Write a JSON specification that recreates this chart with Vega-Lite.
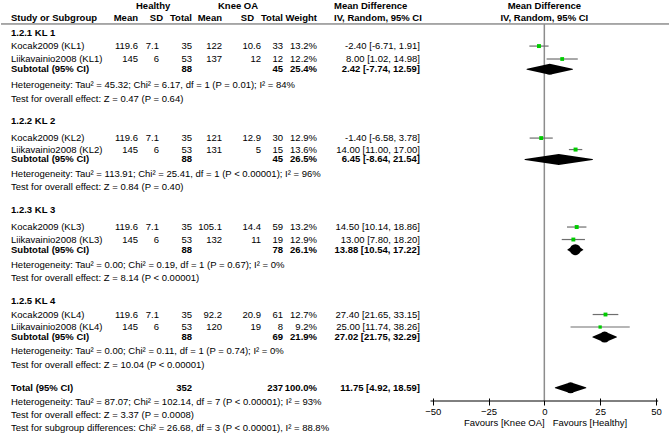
{
"$schema":"https://vega.github.io/schema/vega-lite/v6.json",
"padding":0,
"background":"white",
"spacing":0,
"bounds":"flush",
"config":{"view":{"stroke":null},"concat":{"spacing":0},"text":{"font":"Liberation Sans","fontSize":9.5,"baseline":"middle","color":"#000"}},
"datasets":{
"headers":[
{"col":"study","level":"sub","line":1.24,"text":"Study or Subgroup"},
{"col":"hmean","level":"sub","line":1.24,"text":"Mean"},
{"col":"hsd","level":"top","line":0.41,"text":"Healthy"},
{"col":"hsd","level":"sub","line":1.24,"text":"SD"},
{"col":"htot","level":"sub","line":1.24,"text":"Total"},
{"col":"kmean","level":"sub","line":1.24,"text":"Mean"},
{"col":"ksd","level":"top","line":0.41,"text":"Knee OA"},
{"col":"ksd","level":"sub","line":1.24,"text":"SD"},
{"col":"ktot","level":"sub","line":1.24,"text":"Total"},
{"col":"weight","level":"sub","line":1.24,"text":"Weight"},
{"col":"ci","level":"top","line":0.41,"text":"Mean Difference"},
{"col":"ci","level":"sub","line":1.24,"text":"IV, Random, 95% CI"},
{"col":"plot","level":"top","line":0.41,"text":"Mean Difference","md":0},
{"col":"plot","level":"sub","line":1.24,"text":"IV, Random, 95% CI","md":0}
],
"guides":[
{"guide":"header rule","line":1.65},
{"guide":"no effect","md":0,"line":1.65,"line2":27.59},
{"guide":"axis","lo":-51,"hi":51,"line":27.59}
],
"rows":[
{"line":2.27,"kind":"group","grp":"KL 1","label":"1.2.1 KL 1"},
{"line":3.17,"kind":"study","grp":"KL 1","label":"Kocak2009 (KL1)","hmean":119.6,"hsd":7.1,"htot":35,"kmean":122,"ksd":10.6,"ktot":33,"weight":0.132,"md":-2.40,"lo":-6.71,"hi":1.91,"ci":"-2.40 [-6.71, 1.91]"},
{"line":4.06,"kind":"study","grp":"KL 1","label":"Liikavainio2008 (KL1)","hmean":145,"hsd":6,"htot":53,"kmean":137,"ksd":12,"ktot":12,"weight":0.122,"md":8.00,"lo":1.02,"hi":14.98,"ci":"8.00 [1.02, 14.98]"},
{"line":4.77,"kind":"subtotal","grp":"KL 1","label":"Subtotal (95% CI)","htot":88,"ktot":45,"weight":0.254,"md":2.42,"lo":-7.74,"hi":12.59,"ci":"2.42 [-7.74, 12.59]"},
{"line":5.85,"kind":"note","grp":"KL 1","label":"Heterogeneity: Tau² = 45.32; Chi² = 6.17, df = 1 (P = 0.01); I² = 84%"},
{"line":6.81,"kind":"note","grp":"KL 1","label":"Test for overall effect: Z = 0.47 (P = 0.64)"},
{"line":8.36,"kind":"group","grp":"KL 2","label":"1.2.2 KL 2"},
{"line":9.50,"kind":"study","grp":"KL 2","label":"Kocak2009 (KL2)","hmean":119.6,"hsd":7.1,"htot":35,"kmean":121,"ksd":12.9,"ktot":30,"weight":0.129,"md":-1.40,"lo":-6.58,"hi":3.78,"ci":"-1.40 [-6.58, 3.78]"},
{"line":10.29,"kind":"study","grp":"KL 2","label":"Liikavainio2008 (KL2)","hmean":145,"hsd":6,"htot":53,"kmean":131,"ksd":5,"ktot":15,"weight":0.136,"md":14.00,"lo":11.00,"hi":17.00,"ci":"14.00 [11.00, 17.00]"},
{"line":10.97,"kind":"subtotal","grp":"KL 2","label":"Subtotal (95% CI)","htot":88,"ktot":45,"weight":0.265,"md":6.45,"lo":-8.64,"hi":21.54,"ci":"6.45 [-8.64, 21.54]"},
{"line":11.94,"kind":"note","grp":"KL 2","label":"Heterogeneity: Tau² = 113.91; Chi² = 25.41, df = 1 (P < 0.00001); I² = 96%"},
{"line":12.90,"kind":"note","grp":"KL 2","label":"Test for overall effect: Z = 0.84 (P = 0.40)"},
{"line":14.45,"kind":"group","grp":"KL 3","label":"1.2.3 KL 3"},
{"line":15.62,"kind":"study","grp":"KL 3","label":"Kocak2009 (KL3)","hmean":119.6,"hsd":7.1,"htot":35,"kmean":105.1,"ksd":14.4,"ktot":59,"weight":0.132,"md":14.50,"lo":10.14,"hi":18.86,"ci":"14.50 [10.14, 18.86]"},
{"line":16.48,"kind":"study","grp":"KL 3","label":"Liikavainio2008 (KL3)","hmean":145,"hsd":6,"htot":53,"kmean":132,"ksd":11,"ktot":19,"weight":0.129,"md":13.00,"lo":7.80,"hi":18.20,"ci":"13.00 [7.80, 18.20]"},
{"line":17.18,"kind":"subtotal","grp":"KL 3","label":"Subtotal (95% CI)","htot":88,"ktot":78,"weight":0.261,"md":13.88,"lo":10.54,"hi":17.22,"ci":"13.88 [10.54, 17.22]"},
{"line":18.20,"kind":"note","grp":"KL 3","label":"Heterogeneity: Tau² = 0.00; Chi² = 0.19, df = 1 (P = 0.67); I² = 0%"},
{"line":19.16,"kind":"note","grp":"KL 3","label":"Test for overall effect: Z = 8.14 (P < 0.00001)"},
{"line":20.68,"kind":"group","grp":"KL 4","label":"1.2.5 KL 4"},
{"line":21.64,"kind":"study","grp":"KL 4","label":"Kocak2009 (KL4)","hmean":119.6,"hsd":7.1,"htot":35,"kmean":92.2,"ksd":20.9,"ktot":61,"weight":0.127,"md":27.40,"lo":21.65,"hi":33.15,"ci":"27.40 [21.65, 33.15]"},
{"line":22.50,"kind":"study","grp":"KL 4","label":"Liikavainio2008 (KL4)","hmean":145,"hsd":6,"htot":53,"kmean":120,"ksd":19,"ktot":8,"weight":0.092,"md":25.00,"lo":11.74,"hi":38.26,"ci":"25.00 [11.74, 38.26]"},
{"line":23.19,"kind":"subtotal","grp":"KL 4","label":"Subtotal (95% CI)","htot":88,"ktot":69,"weight":0.219,"md":27.02,"lo":21.75,"hi":32.29,"ci":"27.02 [21.75, 32.29]"},
{"line":24.15,"kind":"note","grp":"KL 4","label":"Heterogeneity: Tau² = 0.00; Chi² = 0.11, df = 1 (P = 0.74); I² = 0%"},
{"line":25.12,"kind":"note","grp":"KL 4","label":"Test for overall effect: Z = 10.04 (P < 0.00001)"},
{"line":26.68,"kind":"total","grp":"Total","label":"Total (95% CI)","htot":352,"ktot":237,"weight":1.0,"md":11.75,"lo":4.92,"hi":18.59,"ci":"11.75 [4.92, 18.59]"},
{"line":27.63,"kind":"note","grp":"Total","label":"Heterogeneity: Tau² = 87.07; Chi² = 102.14, df = 7 (P < 0.00001); I² = 93%"},
{"line":28.56,"kind":"note","grp":"Total","label":"Test for overall effect: Z = 3.37 (P = 0.0008)"},
{"line":29.45,"kind":"note","grp":"Total","label":"Test for subgroup differences: Chi² = 26.68, df = 3 (P < 0.00001), I² = 88.8%"}
]},
"data":{"name":"rows"},
"hconcat":[
{"width":112,"height":436,
 "encoding":{"y":{"field":"line","type":"quantitative","scale":{"domain":[0,30],"reverse":true,"nice":false,"zero":false},"axis":null}},
 "layer":[
  {"data":{"name":"guides"},"transform":[{"filter":"datum.guide == 'header rule'"}],"mark":{"type":"rule","color":"#555","strokeWidth":1}},
  {"data":{"name":"headers"},"transform":[{"filter":"datum.col == 'study'"}],"mark":{"type":"text","align":"left","fontWeight":"bold","dx":10},"encoding":{"x":{"value":0},"text":{"field":"text","type":"nominal"}}},
  {"transform":[{"filter":"datum.kind == 'study' || datum.kind == 'note'"}],"mark":{"type":"text","align":"left","dx":10},"encoding":{"x":{"value":0},"text":{"field":"label","type":"nominal"}}},
  {"transform":[{"filter":"datum.kind == 'group' || datum.kind == 'subtotal' || datum.kind == 'total'"}],"mark":{"type":"text","align":"left","fontWeight":"bold","dx":10},"encoding":{"x":{"value":0},"text":{"field":"label","type":"nominal"}}}
 ]},
{"width":25,"height":436,
 "encoding":{"y":{"field":"line","type":"quantitative","scale":{"domain":[0,30],"reverse":true,"nice":false,"zero":false},"axis":null}},
 "layer":[
  {"data":{"name":"guides"},"transform":[{"filter":"datum.guide == 'header rule'"}],"mark":{"type":"rule","color":"#555","strokeWidth":1}},
  {"data":{"name":"headers"},"transform":[{"filter":"datum.col == 'hmean'"}],"mark":{"type":"text","align":"right","fontWeight":"bold"},"encoding":{"x":{"value":"width"},"text":{"field":"text","type":"nominal"}}},
  {"transform":[{"filter":"datum.kind == 'study'"}],"mark":{"type":"text","align":"right"},"encoding":{"x":{"value":"width"},"text":{"field":"hmean","type":"nominal"}}}
 ]},
{"width":21,"height":436,
 "encoding":{"y":{"field":"line","type":"quantitative","scale":{"domain":[0,30],"reverse":true,"nice":false,"zero":false},"axis":null}},
 "layer":[
  {"data":{"name":"guides"},"transform":[{"filter":"datum.guide == 'header rule'"}],"mark":{"type":"rule","color":"#555","strokeWidth":1}},
  {"data":{"name":"headers"},"transform":[{"filter":"datum.col == 'hsd' && datum.level == 'top'"}],"mark":{"type":"text","align":"left","fontWeight":"bold","dx":-2},"encoding":{"x":{"value":0},"text":{"field":"text","type":"nominal"}}},
  {"data":{"name":"headers"},"transform":[{"filter":"datum.col == 'hsd' && datum.level == 'sub'"}],"mark":{"type":"text","align":"right","fontWeight":"bold","dx":4},"encoding":{"x":{"value":"width"},"text":{"field":"text","type":"nominal"}}},
  {"transform":[{"filter":"datum.kind == 'study'"}],"mark":{"type":"text","align":"right"},"encoding":{"x":{"value":"width"},"text":{"field":"hsd","type":"nominal"}}}
 ]},
{"width":33,"height":436,
 "encoding":{"y":{"field":"line","type":"quantitative","scale":{"domain":[0,30],"reverse":true,"nice":false,"zero":false},"axis":null}},
 "layer":[
  {"data":{"name":"guides"},"transform":[{"filter":"datum.guide == 'header rule'"}],"mark":{"type":"rule","color":"#555","strokeWidth":1}},
  {"data":{"name":"headers"},"transform":[{"filter":"datum.col == 'htot'"}],"mark":{"type":"text","align":"right","fontWeight":"bold"},"encoding":{"x":{"value":"width"},"text":{"field":"text","type":"nominal"}}},
  {"transform":[{"filter":"datum.kind == 'study'"}],"mark":{"type":"text","align":"right"},"encoding":{"x":{"value":"width"},"text":{"field":"htot","type":"nominal"}}},
  {"transform":[{"filter":"datum.kind == 'subtotal' || datum.kind == 'total'"}],"mark":{"type":"text","align":"right","fontWeight":"bold"},"encoding":{"x":{"value":"width"},"text":{"field":"htot","type":"nominal"}}}
 ]},
{"width":30,"height":436,
 "encoding":{"y":{"field":"line","type":"quantitative","scale":{"domain":[0,30],"reverse":true,"nice":false,"zero":false},"axis":null}},
 "layer":[
  {"data":{"name":"guides"},"transform":[{"filter":"datum.guide == 'header rule'"}],"mark":{"type":"rule","color":"#555","strokeWidth":1}},
  {"data":{"name":"headers"},"transform":[{"filter":"datum.col == 'kmean'"}],"mark":{"type":"text","align":"right","fontWeight":"bold"},"encoding":{"x":{"value":"width"},"text":{"field":"text","type":"nominal"}}},
  {"transform":[{"filter":"datum.kind == 'study'"}],"mark":{"type":"text","align":"right"},"encoding":{"x":{"value":"width"},"text":{"field":"kmean","type":"nominal"}}}
 ]},
{"width":39,"height":436,
 "encoding":{"y":{"field":"line","type":"quantitative","scale":{"domain":[0,30],"reverse":true,"nice":false,"zero":false},"axis":null}},
 "layer":[
  {"data":{"name":"guides"},"transform":[{"filter":"datum.guide == 'header rule'"}],"mark":{"type":"rule","color":"#555","strokeWidth":1}},
  {"data":{"name":"headers"},"transform":[{"filter":"datum.col == 'ksd' && datum.level == 'top'"}],"mark":{"type":"text","align":"left","fontWeight":"bold","dx":-4},"encoding":{"x":{"value":0},"text":{"field":"text","type":"nominal"}}},
  {"data":{"name":"headers"},"transform":[{"filter":"datum.col == 'ksd' && datum.level == 'sub'"}],"mark":{"type":"text","align":"right","fontWeight":"bold","dx":-7},"encoding":{"x":{"value":"width"},"text":{"field":"text","type":"nominal"}}},
  {"transform":[{"filter":"datum.kind == 'study'"}],"mark":{"type":"text","align":"right"},"encoding":{"x":{"value":"width"},"text":{"field":"ksd","type":"nominal"}}}
 ]},
{"width":22,"height":436,
 "encoding":{"y":{"field":"line","type":"quantitative","scale":{"domain":[0,30],"reverse":true,"nice":false,"zero":false},"axis":null}},
 "layer":[
  {"data":{"name":"guides"},"transform":[{"filter":"datum.guide == 'header rule'"}],"mark":{"type":"rule","color":"#555","strokeWidth":1}},
  {"data":{"name":"headers"},"transform":[{"filter":"datum.col == 'ktot'"}],"mark":{"type":"text","align":"right","fontWeight":"bold"},"encoding":{"x":{"value":"width"},"text":{"field":"text","type":"nominal"}}},
  {"transform":[{"filter":"datum.kind == 'study'"}],"mark":{"type":"text","align":"right"},"encoding":{"x":{"value":"width"},"text":{"field":"ktot","type":"nominal"}}},
  {"transform":[{"filter":"datum.kind == 'subtotal' || datum.kind == 'total'"}],"mark":{"type":"text","align":"right","fontWeight":"bold"},"encoding":{"x":{"value":"width"},"text":{"field":"ktot","type":"nominal"}}}
 ]},
{"width":34,"height":436,
 "encoding":{"y":{"field":"line","type":"quantitative","scale":{"domain":[0,30],"reverse":true,"nice":false,"zero":false},"axis":null}},
 "layer":[
  {"data":{"name":"guides"},"transform":[{"filter":"datum.guide == 'header rule'"}],"mark":{"type":"rule","color":"#555","strokeWidth":1}},
  {"data":{"name":"headers"},"transform":[{"filter":"datum.col == 'weight'"}],"mark":{"type":"text","align":"right","fontWeight":"bold"},"encoding":{"x":{"value":"width"},"text":{"field":"text","type":"nominal"}}},
  {"transform":[{"filter":"datum.kind == 'study'"}],"mark":{"type":"text","align":"right"},"encoding":{"x":{"value":"width"},"text":{"field":"weight","type":"quantitative","format":".1%"}}},
  {"transform":[{"filter":"datum.kind == 'subtotal' || datum.kind == 'total'"}],"mark":{"type":"text","align":"right","fontWeight":"bold"},"encoding":{"x":{"value":"width"},"text":{"field":"weight","type":"quantitative","format":".1%"}}}
 ]},
{"width":103,"height":436,
 "encoding":{"y":{"field":"line","type":"quantitative","scale":{"domain":[0,30],"reverse":true,"nice":false,"zero":false},"axis":null}},
 "layer":[
  {"data":{"name":"guides"},"transform":[{"filter":"datum.guide == 'header rule'"}],"mark":{"type":"rule","color":"#555","strokeWidth":1}},
  {"data":{"name":"headers"},"transform":[{"filter":"datum.col == 'ci'"}],"mark":{"type":"text","align":"left","fontWeight":"bold","dx":17},"encoding":{"x":{"value":0},"text":{"field":"text","type":"nominal"}}},
  {"transform":[{"filter":"datum.kind == 'study'"}],"mark":{"type":"text","align":"right"},"encoding":{"x":{"value":"width"},"text":{"field":"ci","type":"nominal"}}},
  {"transform":[{"filter":"datum.kind == 'subtotal' || datum.kind == 'total'"}],"mark":{"type":"text","align":"right","fontWeight":"bold"},"encoding":{"x":{"value":"width"},"text":{"field":"ci","type":"nominal"}}}
 ]},
{"width":250,"height":401,
 "encoding":{
  "y":{"field":"line","type":"quantitative","scale":{"domain":[0,27.59],"reverse":true,"nice":false,"zero":false},"axis":null},
  "x":{"field":"md","type":"quantitative","scale":{"domain":[-55.7,56.3],"nice":false,"zero":false},"axis":{"values":[-50,-25,0,25,50],"title":"Favours [Knee OA]\u00a0\u00a0 Favours [Healthy]","domain":false,"grid":false,"tickColor":"#000","tickSize":7,"offset":-3,"labelFont":"Liberation Sans","labelFontSize":9.5,"labelColor":"#000","labelPadding":1,"labelFlush":false,"titleFont":"Liberation Sans","titleFontSize":9.5,"titleFontWeight":"normal","titleColor":"#000","titlePadding":2}}
 },
 "resolve":{"scale":{"size":"independent"}},
 "layer":[
  {"data":{"name":"guides"},"transform":[{"filter":"datum.guide == 'header rule'"}],"mark":{"type":"rule","color":"#555","strokeWidth":1},"encoding":{"x":null}},
  {"data":{"name":"headers"},"transform":[{"filter":"datum.col == 'plot'"}],"mark":{"type":"text","align":"center","fontWeight":"bold"},"encoding":{"text":{"field":"text","type":"nominal"}}},
  {"data":{"name":"guides"},"transform":[{"filter":"datum.guide == 'no effect'"}],"mark":{"type":"rule","color":"#8c8c8c","strokeWidth":1.5},"encoding":{"y2":{"field":"line2"}}},
  {"data":{"name":"guides"},"transform":[{"filter":"datum.guide == 'axis'"}],"mark":{"type":"rule","color":"#000","strokeWidth":1},"encoding":{"x":{"field":"lo","type":"quantitative","scale":{"domain":[-55.7,56.3],"nice":false,"zero":false},"axis":{"values":[-50,-25,0,25,50],"title":"Favours [Knee OA]\u00a0\u00a0 Favours [Healthy]","domain":false,"grid":false,"tickColor":"#000","tickSize":7,"offset":-3,"labelFont":"Liberation Sans","labelFontSize":9.5,"labelColor":"#000","labelPadding":1,"labelFlush":false,"titleFont":"Liberation Sans","titleFontSize":9.5,"titleFontWeight":"normal","titleColor":"#000","titlePadding":2}},"x2":{"field":"hi"}}},
  {"transform":[{"filter":"datum.kind == 'study'"}],"mark":{"type":"rule","color":"#6e6e6e","strokeWidth":1.2},"encoding":{"x":{"field":"lo","type":"quantitative","scale":{"domain":[-55.7,56.3],"nice":false,"zero":false},"axis":{"values":[-50,-25,0,25,50],"title":"Favours [Knee OA]\u00a0\u00a0 Favours [Healthy]","domain":false,"grid":false,"tickColor":"#000","tickSize":7,"offset":-3,"labelFont":"Liberation Sans","labelFontSize":9.5,"labelColor":"#000","labelPadding":1,"labelFlush":false,"titleFont":"Liberation Sans","titleFontSize":9.5,"titleFontWeight":"normal","titleColor":"#000","titlePadding":2}},"x2":{"field":"hi"}}},
  {"transform":[{"filter":"datum.kind == 'study'"}],"mark":{"type":"point","shape":"square","filled":true,"color":"#00cc00","opacity":1},"encoding":{"size":{"field":"weight","type":"quantitative","scale":{"domain":[0,0.136],"range":[0,16]},"legend":null}}},
  {"transform":[{"filter":"datum.kind == 'subtotal' || datum.kind == 'total'"},{"fold":["lo","md","hi"],"as":["key","val"]}],"mark":{"type":"trail","color":"#000"},"encoding":{"x":{"field":"val","type":"quantitative","scale":{"domain":[-55.7,56.3],"nice":false,"zero":false},"axis":{"values":[-50,-25,0,25,50],"title":"Favours [Knee OA]\u00a0\u00a0 Favours [Healthy]","domain":false,"grid":false,"tickColor":"#000","tickSize":7,"offset":-3,"labelFont":"Liberation Sans","labelFontSize":9.5,"labelColor":"#000","labelPadding":1,"labelFlush":false,"titleFont":"Liberation Sans","titleFontSize":9.5,"titleFontWeight":"normal","titleColor":"#000","titlePadding":2}},"detail":{"field":"grp","type":"nominal"},"order":{"field":"val","type":"quantitative"},"size":{"field":"key","type":"ordinal","scale":{"type":"ordinal","domain":["lo","md","hi"],"range":[0,11,0]},"legend":null}}}
 ]}
]
}
